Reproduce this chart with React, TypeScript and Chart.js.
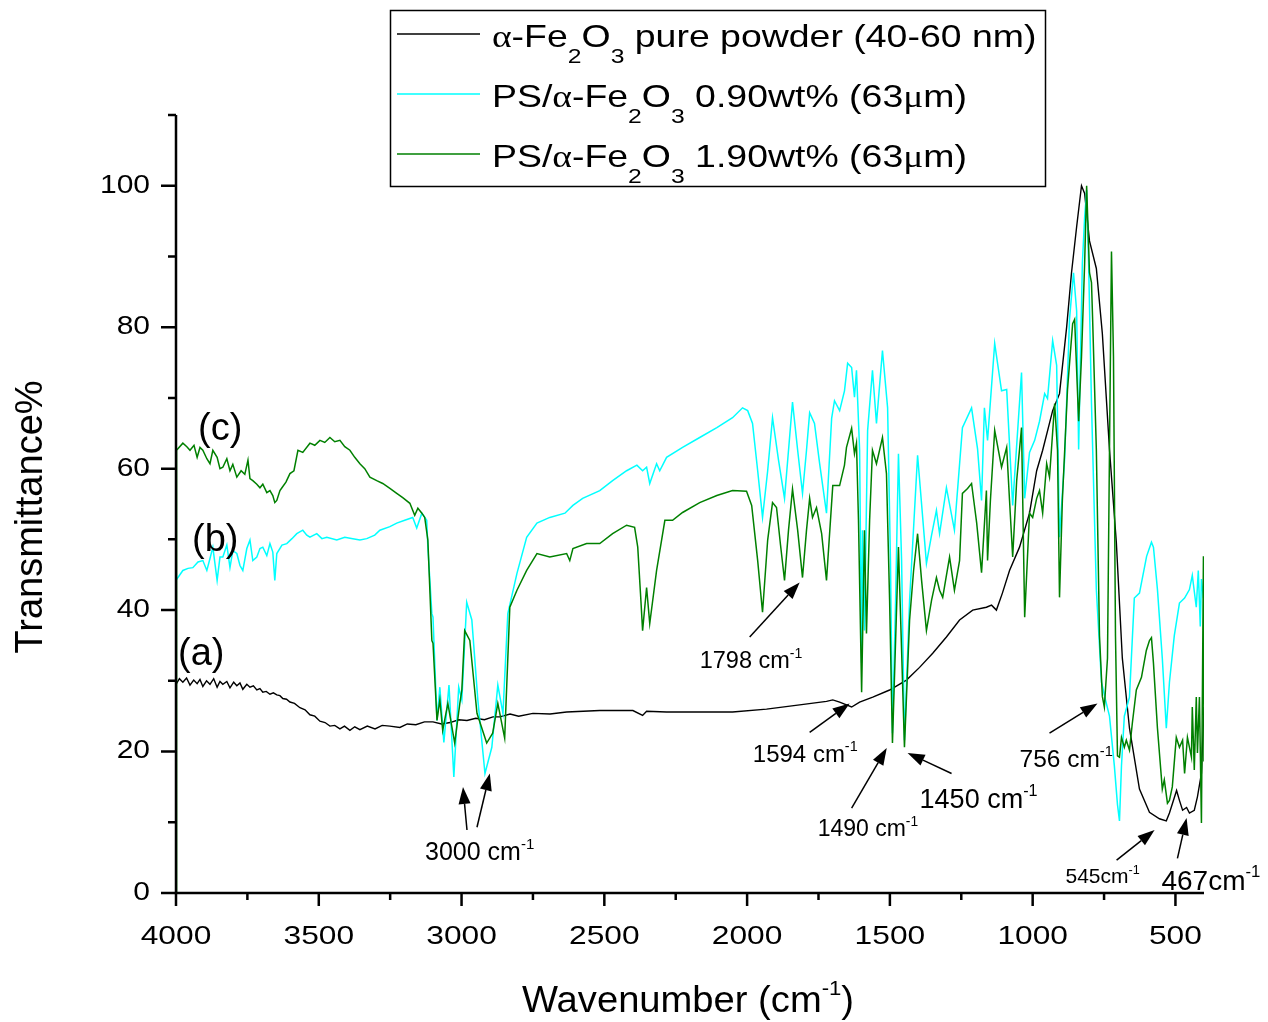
import React, { useEffect, useRef } from 'react';
import { Chart, registerables } from 'chart.js';

Chart.register(...registerables);

type Pt = [number, number];

// FTIR spectra: [wavenumber (cm^-1), transmittance (%)]
const pureFe2O3: Pt[] = [
  [4000, 29.5], [3988, 30.3], [3976, 29.8], [3963, 30.4], [3951, 29.4], [3938, 30.1], [3926, 29.6],
  [3916, 30.2], [3906, 29.2], [3893, 30.0], [3881, 29.5], [3868, 30.3], [3856, 29.1], [3846, 29.9],
  [3836, 29.5], [3822, 29.9], [3811, 29.0], [3798, 29.8], [3787, 29.3], [3776, 29.7], [3766, 28.8],
  [3752, 29.5], [3741, 29.1], [3729, 29.3], [3717, 28.7], [3706, 28.9], [3696, 28.4], [3684, 28.5],
  [3671, 28.1], [3659, 28.3], [3647, 28.0], [3636, 27.9], [3626, 27.5], [3613, 27.4], [3601, 27.0],
  [3585, 26.8], [3566, 26.2], [3548, 25.9], [3531, 25.2], [3514, 25.0], [3496, 24.3], [3478, 24.1],
  [3461, 23.6], [3444, 23.7], [3426, 23.2], [3410, 23.6], [3391, 23.0], [3374, 23.5], [3356, 23.1],
  [3330, 23.6], [3303, 23.2], [3278, 23.7], [3251, 23.6], [3216, 23.4], [3190, 23.9], [3160, 23.8],
  [3130, 24.2], [3100, 24.2], [3070, 23.9], [3040, 24.1], [3010, 24.5], [2981, 24.4], [2950, 24.7],
  [2920, 24.5], [2890, 24.9], [2866, 24.9], [2830, 25.3], [2800, 25.0], [2750, 25.4], [2690, 25.3],
  [2632, 25.6], [2516, 25.8], [2400, 25.8], [2366, 25.1], [2352, 25.7], [2282, 25.6], [2166, 25.6],
  [2051, 25.6], [1932, 26.0], [1816, 26.6], [1722, 27.1], [1700, 27.3], [1676, 27.0], [1634, 26.3],
  [1606, 27.0], [1560, 27.7], [1501, 28.7], [1442, 30.1], [1396, 31.9], [1350, 33.9], [1302, 36.2],
  [1256, 38.6], [1210, 40.0], [1162, 40.4], [1144, 40.7], [1127, 40.0], [1106, 42.4], [1081, 45.6],
  [1046, 48.9], [1011, 53.7], [986, 59.7], [965, 62.6], [930, 68.2], [906, 70.6], [881, 80.0],
  [864, 87.7], [846, 94.2], [829, 100], [818, 98.9], [801, 92.2], [777, 88.3], [756, 79.1],
  [731, 62.7], [707, 49.6], [686, 33.2], [661, 23.3], [626, 14.7], [591, 11.4], [556, 10.5],
  [532, 10.2], [521, 11.3], [496, 14.5], [486, 13.1], [475, 11.7], [461, 12.1], [451, 11.3],
  [434, 11.7], [423, 13.6], [409, 16.9], [400, 26.3],
];

const ps090: Pt[] = [
  [4000, 44.2], [3976, 45.6], [3958, 45.9], [3941, 46.0], [3923, 46.8], [3906, 47.0], [3892, 45.6],
  [3881, 47.3], [3871, 48.9], [3856, 44.2], [3846, 47.5], [3836, 47.5], [3822, 49.2], [3811, 46.0],
  [3801, 48.4], [3787, 48.0], [3776, 46.3], [3766, 45.6], [3752, 48.7], [3741, 49.9], [3731, 47.0],
  [3717, 47.5], [3706, 48.7], [3696, 48.9], [3682, 47.7], [3671, 49.4], [3661, 48.2], [3654, 44.2],
  [3647, 48.0], [3629, 49.2], [3612, 49.4], [3594, 50.1], [3577, 50.8], [3556, 51.3], [3542, 50.6],
  [3531, 50.3], [3507, 50.8], [3489, 50.1], [3472, 50.3], [3437, 49.9], [3409, 50.3], [3381, 50.1],
  [3356, 49.9], [3332, 50.1], [3304, 50.6], [3286, 51.3], [3251, 51.8], [3227, 52.3], [3199, 52.7],
  [3171, 53.1], [3157, 51.6], [3139, 53.7], [3122, 52.7], [3118, 48.9], [3104, 39.5], [3100, 39.0],
  [3086, 24.4], [3076, 29.1], [3062, 21.3], [3044, 29.4], [3027, 16.4], [3010, 29.1], [2999, 27.3],
  [2982, 41.1], [2964, 38.6], [2943, 27.3], [2918, 16.9], [2894, 20.6], [2873, 29.4], [2855, 25.4],
  [2838, 39.5], [2806, 45.2], [2772, 50.3], [2736, 52.3], [2691, 53.1], [2638, 53.7], [2610, 54.8],
  [2576, 55.8], [2516, 56.9], [2471, 58.3], [2422, 59.7], [2386, 60.5], [2366, 59.7], [2352, 60.2],
  [2341, 57.9], [2317, 60.7], [2306, 59.7], [2282, 61.6], [2226, 63.0], [2166, 64.4], [2106, 65.8],
  [2051, 67.2], [2016, 68.6], [1998, 68.2], [1981, 66.4], [1963, 59.7], [1946, 53.1], [1928, 59.7],
  [1911, 67.2], [1890, 61.2], [1869, 55.8], [1855, 62.6], [1841, 69.4], [1823, 62.6], [1806, 56.5],
  [1792, 62.6], [1781, 67.9], [1764, 66.4], [1746, 60.7], [1722, 53.7], [1704, 67.1], [1694, 69.6],
  [1676, 68.2], [1659, 71.0], [1648, 74.9], [1634, 74.3], [1624, 70.1], [1617, 73.9], [1606, 62.6],
  [1599, 32.5], [1596, 51.3], [1589, 37.1], [1578, 65.4], [1561, 73.9], [1547, 66.4], [1526, 76.7],
  [1508, 68.6], [1498, 47.0], [1491, 22.6], [1480, 41.4], [1470, 62.1], [1459, 47.0], [1449, 21.6],
  [1431, 41.4], [1403, 61.9], [1372, 46.6], [1354, 50.6], [1337, 54.1], [1326, 50.8], [1302, 57.3],
  [1274, 51.3], [1246, 65.8], [1214, 68.6], [1193, 62.8], [1179, 55.5], [1169, 68.6], [1158, 64.0],
  [1133, 77.7], [1109, 71.0], [1091, 71.2], [1070, 54.8], [1039, 73.6], [1028, 55.8], [1011, 62.3],
  [993, 64.0], [976, 66.7], [958, 70.6], [948, 69.9], [930, 78.1], [916, 74.6], [906, 50.3],
  [888, 61.4], [871, 81.1], [857, 87.7], [846, 82.3], [839, 62.7], [826, 89.0], [818, 95.5],
  [811, 99.4], [804, 89.0], [794, 69.2], [777, 42.9], [759, 29.8], [745, 27.3], [731, 25.0],
  [714, 18.0], [703, 12.5], [696, 10.2], [689, 18.0], [679, 25.0], [661, 27.7], [644, 41.7],
  [626, 42.4], [601, 47.6], [584, 49.6], [577, 48.9], [563, 42.9], [546, 33.2], [532, 23.3],
  [521, 29.8], [504, 36.4], [486, 41.0], [468, 41.7], [451, 42.9], [441, 44.9], [427, 40.4],
  [420, 45.6], [413, 37.7], [409, 44.4], [402, 41.7],
];

const ps190: Pt[] = [
  [4000, 0], [3998, 62.6], [3976, 63.6], [3962, 63.1], [3951, 62.6], [3937, 63.3], [3926, 61.6],
  [3916, 63.0], [3906, 62.6], [3892, 61.4], [3881, 60.7], [3871, 62.6], [3856, 61.6], [3846, 60.0],
  [3836, 60.2], [3822, 61.4], [3811, 59.7], [3801, 60.6], [3787, 58.8], [3772, 59.7], [3759, 59.2],
  [3748, 61.2], [3741, 58.6], [3731, 58.3], [3717, 57.8], [3706, 57.3], [3696, 57.8], [3682, 56.6],
  [3671, 56.9], [3661, 56.2], [3654, 55.2], [3647, 55.5], [3636, 56.9], [3629, 57.3], [3615, 58.1],
  [3601, 59.3], [3587, 59.7], [3573, 62.6], [3556, 62.3], [3531, 63.6], [3514, 63.3], [3496, 64.0],
  [3479, 63.7], [3461, 64.4], [3444, 63.8], [3426, 64.0], [3409, 63.1], [3391, 62.6], [3374, 61.6],
  [3356, 60.7], [3339, 60.0], [3321, 58.8], [3297, 58.3], [3276, 57.9], [3251, 57.2], [3227, 56.5],
  [3206, 55.9], [3181, 55.1], [3164, 53.4], [3153, 54.4], [3139, 53.7], [3129, 53.1], [3118, 49.9],
  [3104, 35.7], [3100, 35.3], [3086, 24.4], [3076, 27.3], [3066, 23.0], [3048, 26.8], [3024, 21.2],
  [3006, 26.8], [2999, 28.7], [2989, 37.1], [2971, 35.7], [2946, 25.4], [2912, 21.2], [2891, 22.6],
  [2873, 26.8], [2849, 21.9], [2831, 40.4], [2806, 42.8], [2772, 45.6], [2736, 48.0], [2691, 47.5],
  [2632, 48.0], [2621, 47.0], [2610, 48.7], [2562, 49.4], [2516, 49.4], [2471, 50.8], [2422, 52.0],
  [2394, 51.7], [2383, 48.9], [2372, 41.4], [2366, 37.1], [2352, 43.2], [2341, 38.1], [2317, 45.6],
  [2288, 52.7], [2261, 52.7], [2226, 53.8], [2166, 55.2], [2106, 56.2], [2051, 56.9], [2002, 56.8],
  [1984, 54.8], [1963, 47.0], [1946, 39.7], [1928, 49.9], [1911, 55.2], [1897, 54.5], [1883, 49.2],
  [1869, 44.2], [1855, 51.3], [1841, 57.1], [1823, 51.3], [1806, 44.6], [1792, 51.3], [1781, 55.8],
  [1771, 53.1], [1757, 54.5], [1739, 50.8], [1722, 44.2], [1700, 57.6], [1676, 57.6], [1659, 60.5],
  [1652, 63.0], [1634, 65.7], [1624, 62.1], [1617, 63.6], [1610, 52.7], [1599, 28.4], [1589, 51.3],
  [1582, 36.7], [1571, 52.7], [1561, 62.6], [1547, 60.7], [1526, 64.4], [1512, 59.3], [1501, 41.4],
  [1491, 21.2], [1480, 35.7], [1470, 48.9], [1459, 34.3], [1449, 20.6], [1431, 38.6], [1417, 45.6],
  [1403, 50.8], [1389, 44.2], [1372, 37.1], [1354, 41.4], [1337, 44.6], [1326, 42.8], [1315, 41.8],
  [1302, 44.9], [1291, 47.5], [1274, 42.8], [1256, 47.0], [1246, 56.5], [1228, 57.2], [1214, 57.9],
  [1196, 52.3], [1179, 45.3], [1162, 56.9], [1158, 47.0], [1148, 55.5], [1133, 65.4], [1109, 60.2],
  [1091, 63.0], [1081, 55.5], [1070, 47.5], [1056, 58.3], [1039, 65.8], [1028, 39.0], [1011, 53.7],
  [1000, 53.1], [986, 55.8], [976, 56.9], [965, 53.7], [951, 60.7], [941, 58.8], [923, 69.2],
  [913, 62.6], [906, 41.8], [896, 55.5], [878, 71.2], [860, 80.5], [853, 81.1], [839, 66.7],
  [829, 75.8], [818, 89.0], [811, 100], [801, 87.7], [794, 86.3], [790, 81.1], [777, 62.7],
  [766, 36.4], [756, 27.8], [749, 26.3], [738, 33.2], [731, 62.6], [724, 90.7], [717, 75.8],
  [710, 36.4], [703, 19.4], [696, 19.2], [689, 22.0], [679, 20.6], [672, 21.6], [661, 20.2],
  [651, 24.0], [637, 28.7], [619, 30.5], [602, 34.3], [591, 35.7], [584, 36.1], [577, 32.5],
  [563, 23.3], [546, 14.7], [539, 16.0], [528, 12.7], [521, 13.1], [511, 15.0], [497, 22.0],
  [486, 20.6], [475, 21.6], [468, 16.9], [458, 22.0], [444, 19.2], [441, 26.3], [434, 17.4],
  [427, 27.7], [423, 19.8], [416, 27.7], [409, 9.9], [406, 26.3], [402, 47.6], [400, 18.6],
];

const xMajorTicks = [4000, 3500, 3000, 2500, 2000, 1500, 1000, 500];
const xMinorTicks = [3750, 3250, 2750, 2250, 1750, 1250, 750];
const yMajorTicks = [0, 20, 40, 60, 80, 100];
const yMinorTicks = [10, 30, 50, 70, 90, 110];

const seriesColors = ['#000000', '#00FFFF', '#008000'];

type Seg = { t: string; kind?: 'sub' | 'sup'; serif?: boolean };

const legendRows: Seg[][] = [
  [{ t: 'α', serif: true }, { t: '-Fe' }, { t: '2', kind: 'sub' }, { t: 'O' }, { t: '3', kind: 'sub' }, { t: ' pure powder (40-60 nm)' }],
  [{ t: 'PS/' }, { t: 'α', serif: true }, { t: '-Fe' }, { t: '2', kind: 'sub' }, { t: 'O' }, { t: '3', kind: 'sub' }, { t: ' 0.90wt% (63' }, { t: 'μ', serif: true }, { t: 'm)' }],
  [{ t: 'PS/' }, { t: 'α', serif: true }, { t: '-Fe' }, { t: '2', kind: 'sub' }, { t: 'O' }, { t: '3', kind: 'sub' }, { t: ' 1.90wt% (63' }, { t: 'μ', serif: true }, { t: 'm)' }],
];

// curve tags, anchored at [wavenumber, transmittance] of the text baseline start
const curveTags: { text: string; at: Pt }[] = [
  { text: '(a)', at: [3993, 32.2] },
  { text: '(b)', at: [3944, 48.4] },
  { text: '(c)', at: [3923, 64.0] },
];

// band assignments: label anchor, font size, arrows (from -> to) in data units
const bandNotes: { label: string; sup: string; at: Pt; size: number; arrows: [Pt, Pt][] }[] = [
  { label: '3000 cm', sup: '-1', at: [3128, 4.66], size: 25, arrows: [[[2981, 8.9], [2995, 15.0]], [[2946, 9.3], [2901, 16.9]]] },
  { label: '1798 cm', sup: '-1', at: [2166, 31.8], size: 23.5, arrows: [[[1991, 36.2], [1816, 43.9]]] },
  { label: '1594 cm', sup: '-1', at: [1980, 18.5], size: 24, arrows: [[[1781, 22.7], [1641, 26.8]]] },
  { label: '1490 cm', sup: '-1', at: [1753, 8.05], size: 23, arrows: [[[1634, 12.0], [1511, 20.5]]] },
  { label: '1450 cm', sup: '-1', at: [1396, 12.0], size: 27, arrows: [[[1284, 16.9], [1438, 19.8]]] },
  { label: '756 cm', sup: '-1', at: [1046, 17.8], size: 24.5, arrows: [[[941, 22.6], [773, 26.8]]] },
  { label: '545cm', sup: '-1', at: [885, 1.4], size: 21, arrows: [[[706, 4.66], [573, 8.9]]] },
  { label: '467cm', sup: '-1', at: [549, 0.42], size: 28, arrows: [[[493, 4.9], [461, 10.6]]] },
];

const SANS = '"Liberation Sans", Arial, sans-serif';
const SERIF = '"Liberation Serif", "Times New Roman", serif';

function drawRich(
  ctx: CanvasRenderingContext2D,
  x: number,
  y: number,
  segs: Seg[],
  size: number,
  sx: number,
  opts: { subRatio: number; subDrop: number; supRatio: number; supRise: number }
) {
  ctx.save();
  ctx.translate(x, y);
  ctx.scale(sx, 1);
  ctx.textAlign = 'left';
  ctx.textBaseline = 'alphabetic';
  let cx = 0;
  for (const s of segs) {
    const fs = s.kind === 'sub' ? size * opts.subRatio : s.kind === 'sup' ? size * opts.supRatio : size;
    ctx.font = `${fs}px ${s.serif ? SERIF : SANS}`;
    const dy = s.kind === 'sub' ? size * opts.subDrop : s.kind === 'sup' ? -size * opts.supRise : 0;
    ctx.fillText(s.t, cx, dy);
    cx += ctx.measureText(s.t).width;
  }
  ctx.restore();
}

function drawArrow(ctx: CanvasRenderingContext2D, x1: number, y1: number, x2: number, y2: number) {
  const ang = Math.atan2(y2 - y1, x2 - x1);
  const hl = 17;
  const hw = 6;
  const bx = x2 - hl * Math.cos(ang);
  const by = y2 - hl * Math.sin(ang);
  ctx.beginPath();
  ctx.moveTo(x1, y1);
  ctx.lineTo(bx, by);
  ctx.lineWidth = 1.5;
  ctx.stroke();
  ctx.beginPath();
  ctx.moveTo(x2, y2);
  ctx.lineTo(bx + hw * Math.sin(ang), by - hw * Math.cos(ang));
  ctx.lineTo(bx - hw * Math.sin(ang), by + hw * Math.cos(ang));
  ctx.closePath();
  ctx.fill();
}

const decorPlugin = {
  id: 'ftirDecor',
  afterDatasetsDraw(chart: any) {
    const ctx: CanvasRenderingContext2D = chart.ctx;
    const xs = chart.scales.x;
    const ys = chart.scales.y;
    const { left, right, top, bottom } = chart.chartArea;
    const px = (w: number) => xs.getPixelForValue(w);
    const py = (v: number) => ys.getPixelForValue(v);

    ctx.save();
    ctx.strokeStyle = '#000';
    ctx.fillStyle = '#000';
    ctx.lineCap = 'butt';

    // axis lines
    ctx.lineWidth = 2.5;
    ctx.beginPath();
    ctx.moveTo(left, top);
    ctx.lineTo(left, bottom + 1.25);
    ctx.moveTo(left - 1.25, bottom);
    ctx.lineTo(right, bottom);
    ctx.stroke();

    // ticks
    ctx.beginPath();
    for (const v of yMajorTicks) {
      const y = py(v);
      ctx.moveTo(left - 15, y);
      ctx.lineTo(left, y);
    }
    for (const v of yMinorTicks) {
      const y = py(v);
      ctx.moveTo(left - 8, y);
      ctx.lineTo(left, y);
    }
    for (const w of xMajorTicks) {
      const x = px(w);
      ctx.moveTo(x, bottom);
      ctx.lineTo(x, bottom + 13);
    }
    for (const w of xMinorTicks) {
      const x = px(w);
      ctx.moveTo(x, bottom);
      ctx.lineTo(x, bottom + 7);
    }
    ctx.stroke();

    // tick labels
    ctx.font = `25px ${SANS}`;
    ctx.textAlign = 'right';
    ctx.textBaseline = 'middle';
    for (const v of yMajorTicks) {
      ctx.save();
      ctx.translate(150, py(v));
      ctx.scale(1.2, 1);
      ctx.fillText(String(v), 0, 0);
      ctx.restore();
    }
    ctx.font = `26px ${SANS}`;
    ctx.textAlign = 'center';
    ctx.textBaseline = 'alphabetic';
    for (const w of xMajorTicks) {
      ctx.save();
      ctx.translate(px(w), bottom + 51);
      ctx.scale(1.22, 1);
      ctx.fillText(String(w), 0, 0);
      ctx.restore();
    }

    // axis titles
    ctx.save();
    ctx.translate(42, 517);
    ctx.rotate(-Math.PI / 2);
    ctx.font = `38px ${SANS}`;
    ctx.textAlign = 'center';
    ctx.textBaseline = 'alphabetic';
    ctx.fillText('Transmittance%', 0, 0);
    ctx.restore();

    drawRich(ctx, 522, 1012, [{ t: 'Wavenumber (cm' }, { t: '-1', kind: 'sup' }, { t: ')' }], 36, 1.06, {
      subRatio: 0.6, subDrop: 0.4, supRatio: 0.58, supRise: 0.48,
    });

    // curve tags
    for (const c of curveTags) {
      ctx.font = `38px ${SANS}`;
      ctx.textAlign = 'left';
      ctx.textBaseline = 'alphabetic';
      ctx.fillText(c.text, px(c.at[0]), py(c.at[1]));
    }

    // band notes with arrows
    for (const n of bandNotes) {
      drawRich(ctx, px(n.at[0]), py(n.at[1]), [{ t: n.label }, { t: n.sup, kind: 'sup' }], n.size, 1.0, {
        subRatio: 0.6, subDrop: 0.4, supRatio: 0.6, supRise: 0.45,
      });
      for (const [a, b] of n.arrows) {
        drawArrow(ctx, px(a[0]), py(a[1]), px(b[0]), py(b[1]));
      }
    }

    // legend box
    const lx0 = 390, ly0 = 10, lx1 = 1045, ly1 = 186;
    ctx.fillStyle = '#fff';
    ctx.fillRect(lx0, ly0, lx1 - lx0, ly1 - ly0);
    ctx.strokeStyle = '#000';
    ctx.lineWidth = 1.5;
    ctx.strokeRect(lx0 + 0.5, ly0 + 0.5, lx1 - lx0, ly1 - ly0);
    const rowLineY = [34, 94, 154];
    legendRows.forEach((segs, i) => {
      ctx.strokeStyle = seriesColors[i];
      ctx.lineWidth = 1.5;
      ctx.beginPath();
      ctx.moveTo(397, rowLineY[i]);
      ctx.lineTo(480, rowLineY[i]);
      ctx.stroke();
      ctx.fillStyle = '#000';
      drawRich(ctx, 492, rowLineY[i] + 13, segs, 32, 1.17, {
        subRatio: 0.66, subDrop: 0.5, supRatio: 0.6, supRise: 0.45,
      });
    });

    ctx.restore();
  },
};

const toXY = (pts: Pt[]) => pts.map(([x, y]) => ({ x, y }));

export default function App() {
  const canvasRef = useRef<HTMLCanvasElement>(null);

  useEffect(() => {
    const canvas = canvasRef.current;
    if (!canvas) return;
    const chart = new Chart(canvas, {
      type: 'line',
      data: {
        datasets: [
          { label: 'a', data: toXY(pureFe2O3), borderColor: seriesColors[0], borderWidth: 1.4, pointRadius: 0, fill: false, order: 3 },
          { label: 'b', data: toXY(ps090), borderColor: seriesColors[1], borderWidth: 1.5, pointRadius: 0, fill: false, order: 2 },
          { label: 'c', data: toXY(ps190), borderColor: seriesColors[2], borderWidth: 1.5, pointRadius: 0, fill: false, order: 1 },
        ],
      },
      options: {
        animation: false,
        responsive: false,
        devicePixelRatio: 1,
        events: [],
        layout: { padding: { left: 176, right: 64, top: 115, bottom: 129 } },
        plugins: { legend: { display: false }, tooltip: { enabled: false } },
        elements: { line: { tension: 0 }, point: { radius: 0 } },
        scales: {
          x: { type: 'linear', reverse: true, min: 400, max: 4000, display: false },
          y: { type: 'linear', min: 0, max: 110, display: false },
        },
      },
      plugins: [decorPlugin],
    } as any);
    return () => chart.destroy();
  }, []);

  return (
    <div style={{ position: 'absolute', left: 0, top: 0, width: 1268, height: 1022, background: '#fff' }}>
      <canvas ref={canvasRef} width={1268} height={1022} style={{ display: 'block', width: 1268, height: 1022 }} />
    </div>
  );
}
